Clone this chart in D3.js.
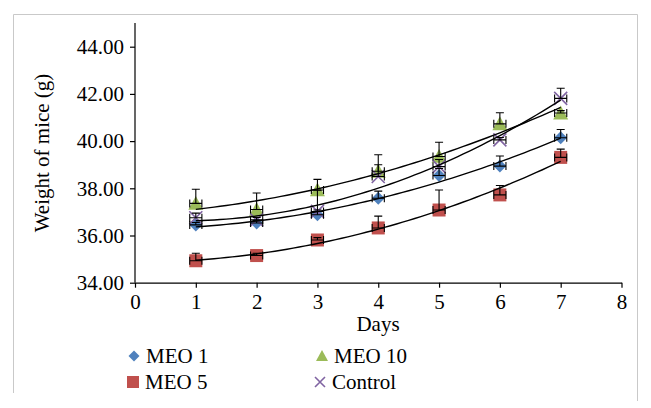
<!DOCTYPE html>
<html><head><meta charset="utf-8">
<script src="https://cdn.jsdelivr.net/npm/d3@7"></script>
<style>html,body{margin:0;padding:0;background:#fff;}svg{display:block;}</style>
</head><body>
<svg id="c" width="651" height="408"></svg>
<script>
const days = [1, 2, 3, 4, 5, 6, 7];
const meo1 = [36.45, 36.53, 36.88, 37.58, 38.54, 38.94, 40.14];
const meo5 = [34.93, 35.15, 35.81, 36.32, 37.08, 37.72, 39.31];
const meo10 = [37.36, 37.10, 37.93, 38.72, 39.35, 40.73, 41.19];
const control = [36.75, 36.66, 37.02, 38.50, 38.92, 40.05, 41.81];
const meo1Err = [0.10, 0.10, 0.20, 0.30, 0.30, 0.43, 0.35];
const meo5Err = [0.32, 0.10, 0.10, 0.50, 0.85, 0.40, 0.35];
const meo10Err = [0.60, 0.70, 0.45, 0.70, 0.60, 0.47, 0.10];
const controlErr = [0.20, 0.10, 0.90, 0.50, 0.30, 0.10, 0.43];
const dayErr = 0.1;
const yTicks = [34, 36, 38, 40, 42, 44];
const xTicks = [0, 1, 2, 3, 4, 5, 6, 7, 8];
const seriesNames = ["MEO 1", "MEO 10", "MEO 5", "Control"];

const series = [
  {name: "MEO 1", vals: meo1, err: meo1Err, color: "#4F81BD", sym: "diamond"},
  {name: "MEO 10", vals: meo10, err: meo10Err, color: "#9BBB59", sym: "triangle"},
  {name: "MEO 5", vals: meo5, err: meo5Err, color: "#C0504D", sym: "square"},
  {name: "Control", vals: control, err: controlErr, color: "#8064A2", sym: "cross"}
];

const svg = d3.select("#c");
const font = '"Liberation Serif"';

// chart border
const bc = "#c9c9c9";
svg.append("line").attr("x1",13.5).attr("x2",637.5).attr("y1",14.5).attr("y2",14.5).attr("stroke",bc);
svg.append("line").attr("x1",13.5).attr("x2",13.5).attr("y1",14.5).attr("y2",393).attr("stroke",bc);
svg.append("line").attr("x1",637.5).attr("x2",637.5).attr("y1",14.5).attr("y2",401).attr("stroke",bc);

const x = d3.scaleLinear().domain([0, 8]).range([135, 621.5]);
const y = d3.scaleLinear().domain([34, 45]).range([282.7, 23.1]);

// axes
const ya = svg.append("g").attr("transform","translate(135,0)")
  .call(d3.axisLeft(y).tickValues(yTicks).tickSize(5).tickSizeOuter(0).tickFormat(d3.format(".2f")).tickPadding(6));
const xa = svg.append("g").attr("transform","translate(0,282.7)")
  .call(d3.axisBottom(x).tickValues(xTicks).tickSize(5).tickSizeOuter(0).tickFormat(d3.format("d")).tickPadding(6));
[ya, xa].forEach(a => {
  a.attr("font-family", null);
  a.select(".domain").attr("stroke","#000").attr("stroke-width",1.2);
  a.selectAll(".tick line").attr("stroke","#000").attr("stroke-width",1.2);
  a.selectAll("text").style("font-family",font).attr("font-size",21).attr("fill","#000");
});
ya.select(".domain").attr("d", `M0,${y(45)}V${y(34)}`);

// titles
svg.append("text").attr("x",378).attr("y",331).attr("text-anchor","middle")
  .style("font-family",font).attr("font-size",21).text("Days");
svg.append("text").attr("transform","translate(49,153) rotate(-90)").attr("text-anchor","middle")
  .style("font-family",font).attr("font-size",21).text("Weight of mice (g)");

function symPath(sym, s) {
  const h = s/2;
  if (sym === "diamond") return `M0,${-h}L${h},0L0,${h}L${-h},0Z`;
  if (sym === "square") return `M${-h},${-h}H${h}V${h}H${-h}Z`;
  if (sym === "triangle") return `M0,${-h}L${h},${h*0.85}L${-h},${h*0.85}Z`;
  return `M${-h},${-h}L${h},${h}M${h},${-h}L${-h},${h}`;
}
function drawSym(g, sym, color, s) {
  const p = g.append("path").attr("d", symPath(sym, s));
  if (sym === "cross") p.attr("fill","none").attr("stroke",color).attr("stroke-width",1.6);
  else p.attr("fill",color);
}

// markers
const plot = svg.append("g");
series.forEach(sr => {
  const sizes = {diamond: 13, square: 13, triangle: 15, cross: 13};
  sr.vals.forEach((v, i) => {
    const g = plot.append("g").attr("transform",`translate(${x(days[i])},${y(v)})`);
    drawSym(g, sr.sym, sr.color, sizes[sr.sym]);
  });
});

// error bars
const eb = svg.append("g").attr("stroke","#000").attr("stroke-width",1.1).attr("fill","none");
series.forEach(sr => {
  sr.vals.forEach((v, i) => {
    const cx = x(days[i]), cy = y(v), top = y(v + sr.err[i]);
    eb.append("path").attr("d",`M${cx},${cy}V${top}M${cx-4},${top}H${cx+4}`);
    const xl = x(days[i]-dayErr), xr = x(days[i]+dayErr);
    eb.append("path").attr("d",`M${xl},${cy}H${xr}M${xl},${cy-4}V${cy+4}M${xr},${cy-4}V${cy+4}`);
  });
});

// polynomial (order 2) trendlines, least squares fit of each series
function quadFit(xs, ys) {
  const n = xs.length;
  let s = [0,0,0,0,0], t = [0,0,0];
  for (let i = 0; i < n; i++) {
    const xi = xs[i];
    for (let k = 0; k < 5; k++) s[k] += Math.pow(xi, k);
    for (let k = 0; k < 3; k++) t[k] += ys[i] * Math.pow(xi, k);
  }
  const A = [[s[0],s[1],s[2],t[0]],[s[1],s[2],s[3],t[1]],[s[2],s[3],s[4],t[2]]];
  for (let c = 0; c < 3; c++) {
    for (let r = c+1; r < 3; r++) {
      const f = A[r][c]/A[c][c];
      for (let k = c; k < 4; k++) A[r][k] -= f*A[c][k];
    }
  }
  const b = [0,0,0];
  for (let r = 2; r >= 0; r--) {
    let sum = A[r][3];
    for (let k = r+1; k < 3; k++) sum -= A[r][k]*b[k];
    b[r] = sum/A[r][r];
  }
  return xv => b[0] + b[1]*xv + b[2]*xv*xv;
}
const tl = svg.append("g");
series.forEach(sr => {
  const f = quadFit(days, sr.vals);
  const pts = d3.range(0, 61).map(k => 1 + k*0.1);
  tl.append("path").datum(pts)
    .attr("d", d3.line().x(d => x(d)).y(d => y(f(d))))
    .attr("fill","none").attr("stroke","#000").attr("stroke-width",1.4);
});

// legend
const legendItems = [
  {name: seriesNames[0], sym: "diamond", color: "#4F81BD", mx: 134, ty: 363},
  {name: seriesNames[1], sym: "triangle", color: "#9BBB59", mx: 322, ty: 363},
  {name: seriesNames[2], sym: "square", color: "#C0504D", mx: 133, ty: 389},
  {name: seriesNames[3], sym: "cross", color: "#8064A2", mx: 320, ty: 389}
];
const lg = svg.append("g");
legendItems.forEach(it => {
  const g = lg.append("g").attr("transform",`translate(${it.mx},${it.ty-7})`);
  const s = {diamond: 11, square: 12, triangle: 12, cross: 10}[it.sym];
  drawSym(g, it.sym, it.color, s);
  lg.append("text").attr("x", it.mx + 12).attr("y", it.ty)
    .style("font-family",font).attr("font-size",21).text(it.name);
});
</script>
</body></html>
